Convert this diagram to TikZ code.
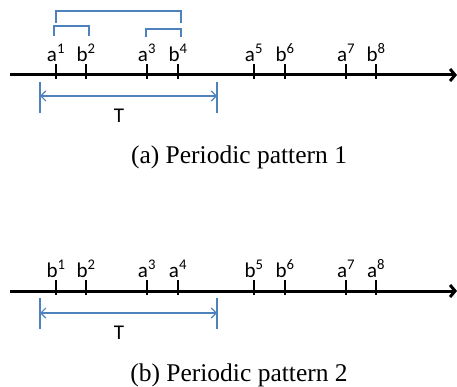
\documentclass[tikz,border=0pt]{standalone}
\usepackage{fontspec}
\setmainfont{Liberation Serif}
\newfontfamily\lblfont{Carlito}
\usepackage{xcolor}
\usetikzlibrary{arrows.meta, positioning}
\definecolor{lineblue}{RGB}{79,129,189}

\begin{document}
\begin{tikzpicture}[x=1pt,y=-1pt]
\tikzstyle{tick}=[fill,inner sep=0pt,minimum width=2pt,minimum height=15pt]
\tikzstyle{lbl}=[font=\lblfont\fontsize{21}{21}\selectfont,inner sep=0pt,anchor=south]
\tikzstyle{axis}=[line width=3pt,-{Straight Barb[length=5pt,width=12pt]}]
\tikzstyle{brace}=[lineblue,line width=1.5pt]
\tikzstyle{span}=[lineblue,line width=1.2pt]
\tikzstyle{spanarrow}=[span,{Straight Barb[length=5pt,width=10pt]}-{Straight Barb[length=5pt,width=10pt]}]
\tikzstyle{caption}=[font=\fontsize{25.5}{25.5}\selectfont,inner sep=0pt,anchor=base]

\useasboundingbox (0,0) rectangle (457,387);

% Pattern 1: axis
\coordinate (s1) at (10,75);
\coordinate (e1) at (457,75);
\draw[axis] (s1) -- (e1);
% Pattern 1: ticks
\node[tick] (t1) at (56,71.5) {};
\node[tick] (t2) at (86,71.5) {};
\node[tick] (t3) at (147,71.5) {};
\node[tick] (t4) at (178,71.5) {};
\node[tick] (t5) at (254,71.5) {};
\node[tick] (t6) at (285,71.5) {};
\node[tick] (t7) at (346,71.5) {};
\node[tick] (t8) at (376,71.5) {};
% Pattern 1: labels
\node[lbl,above=2pt of t1] (l1) {a\textsuperscript{1}};
\node[lbl,above=2pt of t2] (l2) {b\textsuperscript{2}};
\node[lbl,above=2pt of t3] (l3) {a\textsuperscript{3}};
\node[lbl,above=2pt of t4] (l4) {b\textsuperscript{4}};
\node[lbl,above=2pt of t5] (l5) {a\textsuperscript{5}};
\node[lbl,above=2pt of t6] (l6) {b\textsuperscript{6}};
\node[lbl,above=2pt of t7] (l7) {a\textsuperscript{7}};
\node[lbl,above=2pt of t8] (l8) {b\textsuperscript{8}};
% Pattern 1: brackets
\coordinate (o1) at (56,23);
\coordinate (o2) at (181,23);
\coordinate (i1) at (54,36);
\coordinate (i2) at (89,36);
\coordinate (i3) at (146,37);
\coordinate (i4) at (181,37);
\draw[brace] (o1) -- ++(0,-12) -| (o2);
\draw[brace] (i1) -- ++(0,-10) -| (i2);
\draw[brace] (i3) -- ++(0,-8) -| (i4);
% Pattern 1: period
\coordinate (p1) at (40,82);
\coordinate (q1) at (40,113);
\coordinate (p2) at (217,82);
\coordinate (q2) at (217,113);
\coordinate (m1) at (40,96);
\coordinate (n1) at (217,96);
\draw[span] (p1) -- (q1);
\draw[span] (p2) -- (q2);
\draw[spanarrow] (m1) -- (n1);
\node[lbl,anchor=base] (T1) at (119,123) {T};
\node[caption] (c1) at (239,164) {(a) Periodic pattern 1};

% Pattern 2: axis
\coordinate (s2) at (10,291);
\coordinate (e2) at (457,291);
\draw[axis] (s2) -- (e2);
% Pattern 2: ticks
\node[tick] (u1) at (56,287.5) {};
\node[tick] (u2) at (86,287.5) {};
\node[tick] (u3) at (147,287.5) {};
\node[tick] (u4) at (178,287.5) {};
\node[tick] (u5) at (254,287.5) {};
\node[tick] (u6) at (285,287.5) {};
\node[tick] (u7) at (346,287.5) {};
\node[tick] (u8) at (376,287.5) {};
% Pattern 2: labels
\node[lbl,above=2pt of u1] (k1) {b\textsuperscript{1}};
\node[lbl,above=2pt of u2] (k2) {b\textsuperscript{2}};
\node[lbl,above=2pt of u3] (k3) {a\textsuperscript{3}};
\node[lbl,above=2pt of u4] (k4) {a\textsuperscript{4}};
\node[lbl,above=2pt of u5] (k5) {b\textsuperscript{5}};
\node[lbl,above=2pt of u6] (k6) {b\textsuperscript{6}};
\node[lbl,above=2pt of u7] (k7) {a\textsuperscript{7}};
\node[lbl,above=2pt of u8] (k8) {a\textsuperscript{8}};
% Pattern 2: period
\coordinate (p3) at (40,298);
\coordinate (q3) at (40,329);
\coordinate (p4) at (217,298);
\coordinate (q4) at (217,329);
\coordinate (m2) at (40,313);
\coordinate (n2) at (217,313);
\draw[span] (p3) -- (q3);
\draw[span] (p4) -- (q4);
\draw[spanarrow] (m2) -- (n2);
\node[lbl,anchor=base] (T2) at (119,339) {T};
\node[caption] (c2) at (239,381) {(b) Periodic pattern 2};

\end{tikzpicture}
\end{document}
